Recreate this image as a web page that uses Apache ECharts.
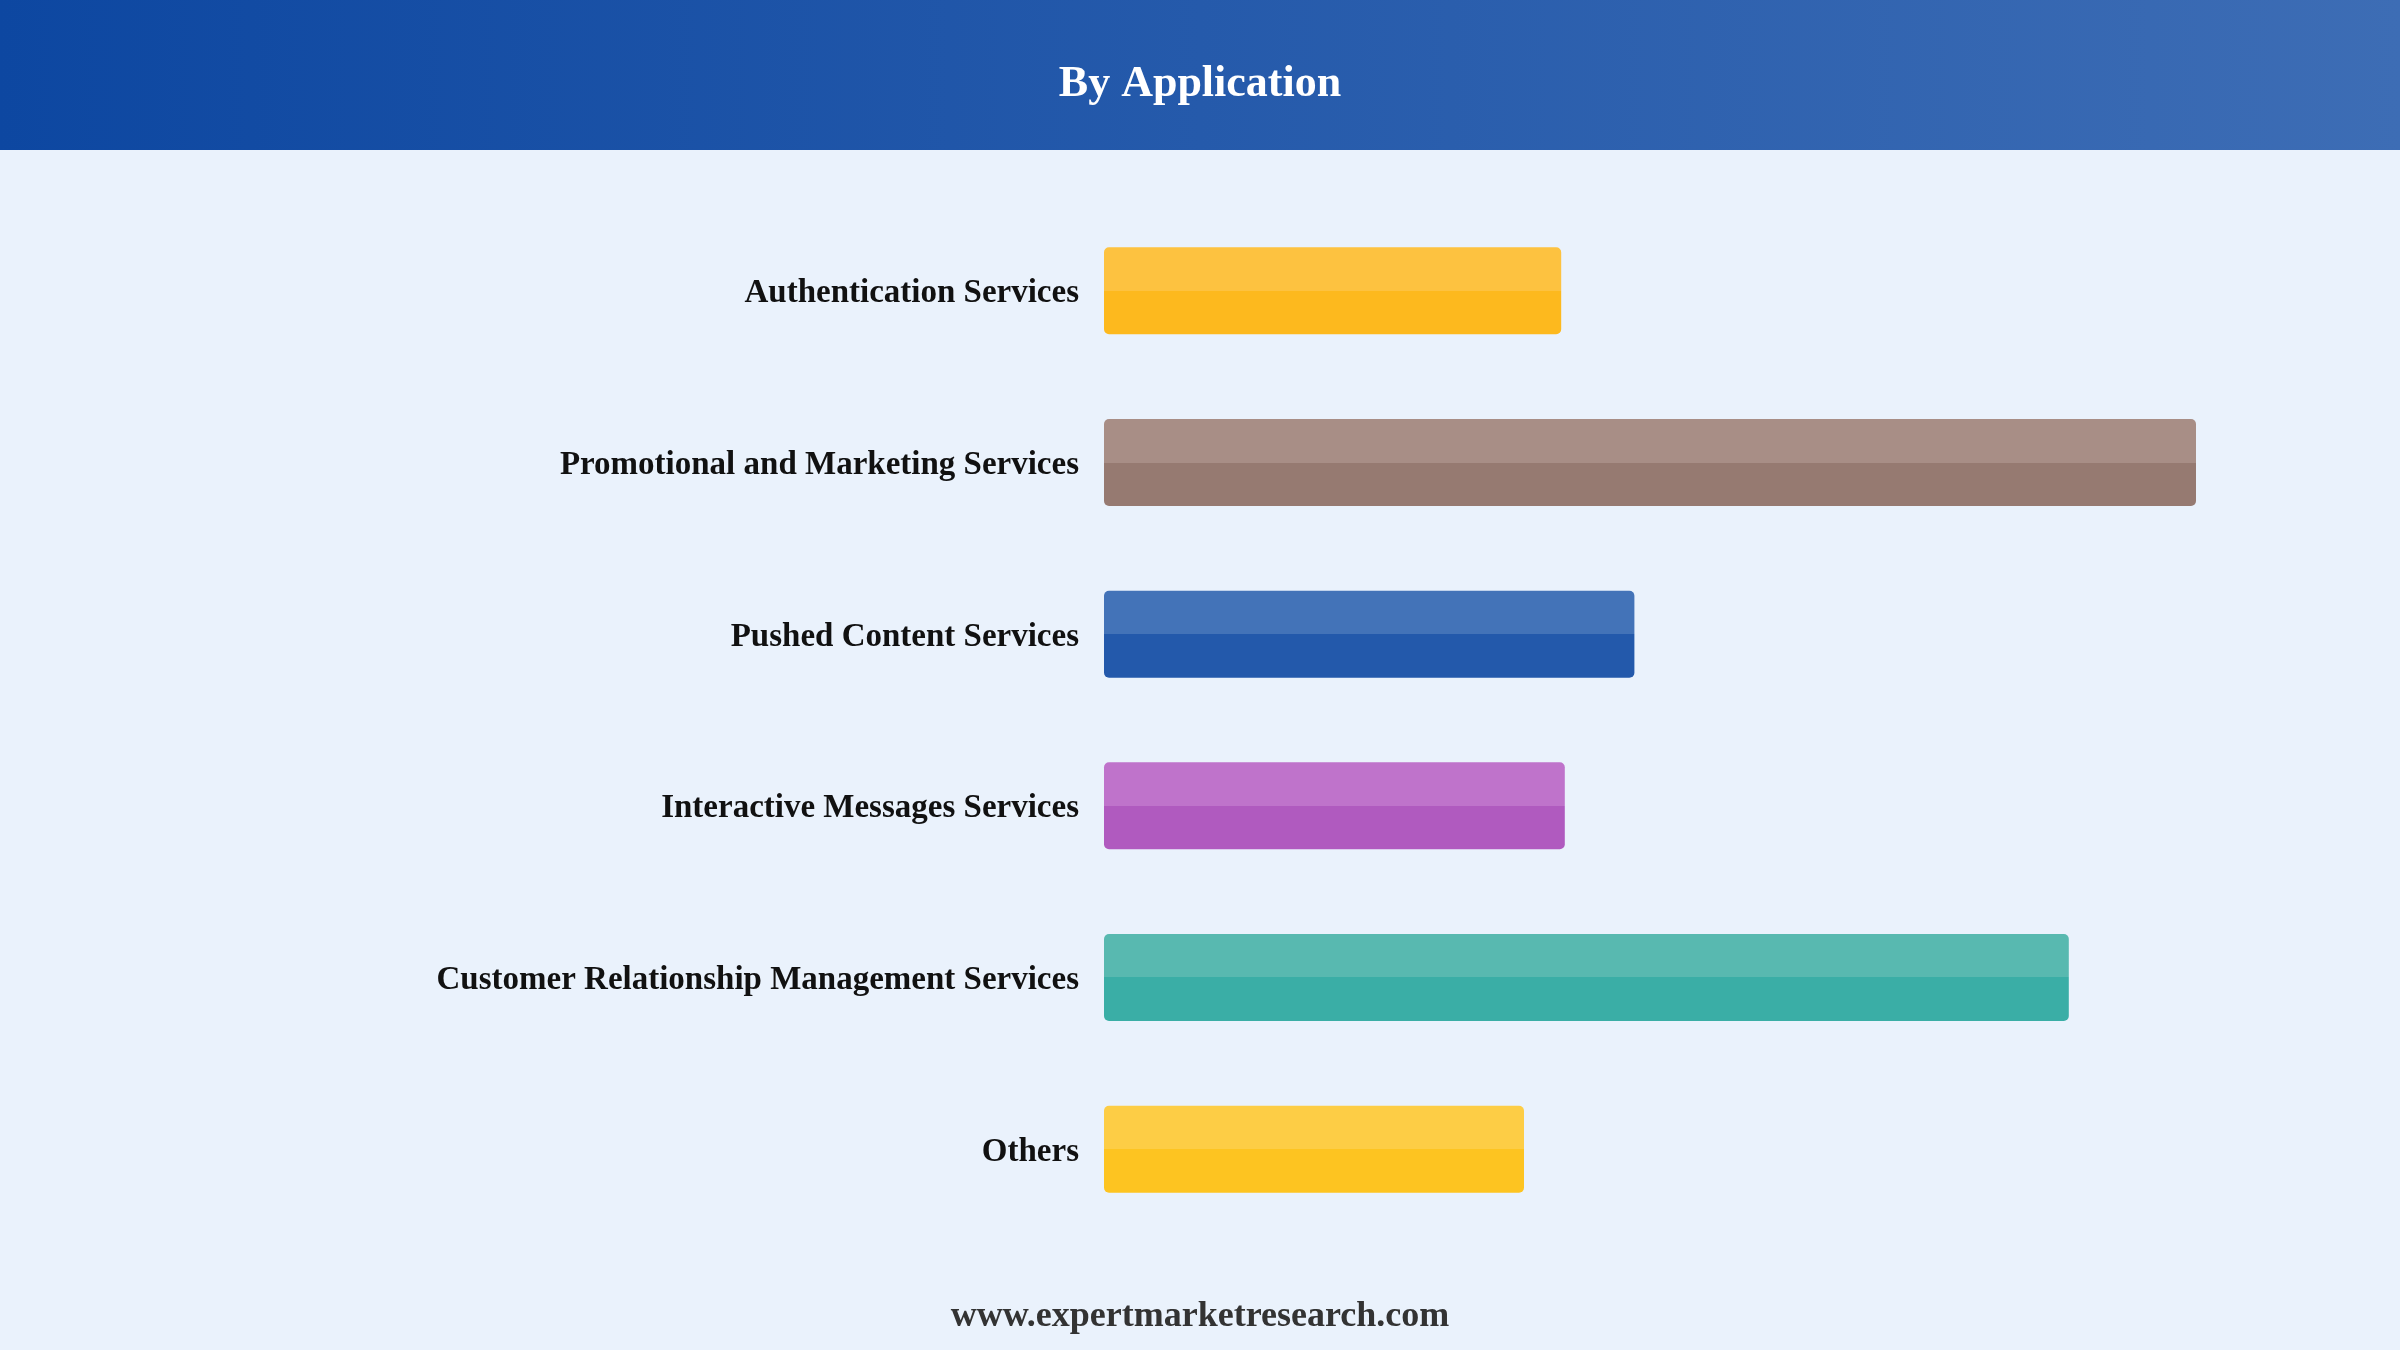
<!DOCTYPE html>
<html>
<head>
<meta charset="utf-8">
<title>By Application</title>
<script src="https://cdn.jsdelivr.net/npm/echarts@6/dist/echarts.min.js"></script>
<style>
  html, body { margin: 0; padding: 0; background: #eaf2fc; }
  #chart { width: 2400px; height: 1350px; }
</style>
</head>
<body>
<div id="chart"></div>
<script>
;(function(){
  'use strict';

  // chart data
  var categories = [
    'Authentication Services',
    'Promotional and Marketing Services',
    'Pushed Content Services',
    'Interactive Messages Services',
    'Customer Relationship Management Services',
    'Others'
  ];
  var values = [38.1, 91.0, 44.2, 38.4, 80.4, 35.0];

  // bar colours: lighter top half, base lower half
  var topColors  = ['#fdc240', '#a88e86', '#4373b8', '#bf73cb', '#58b9b0', '#fdcd45'];
  var baseColors = ['#fdb91e', '#967a71', '#2359ab', '#b05abf', '#3aaea6', '#fdc421'];

  var serif = '"Liberation Serif", "Times New Roman", serif';

  var barData = [];
  for (var i = 0; i < values.length; i++) {
    barData.push({
      value: values[i],
      itemStyle: {
        color: new echarts.graphic.LinearGradient(0, 0, 0, 1, [
          { offset: 0, color: topColors[i] },
          { offset: 0.5, color: topColors[i] },
          { offset: 0.5, color: baseColors[i] },
          { offset: 1, color: baseColors[i] }
        ])
      }
    });
  }

  var option = {
    backgroundColor: '#eaf2fc',
    animation: false,
    graphic: [
      {
        type: 'rect',
        left: 0, top: 0, z: 0,
        shape: { width: 2400, height: 150 },
        style: {
          fill: new echarts.graphic.LinearGradient(0, 0, 1, 0, [
            { offset: 0, color: '#0d47a1' },
            { offset: 1, color: '#3d6db5' }
          ])
        }
      },
      {
        type: 'text',
        x: 1200, y: 85, z: 10,
        style: {
          text: 'By Application',
          align: 'center',
          verticalAlign: 'middle',
          fill: '#ffffff',
          font: 'bold 44px ' + serif
        }
      },
      {
        type: 'text',
        x: 1200, y: 1317, z: 10,
        style: {
          text: 'www.expertmarketresearch.com',
          align: 'center',
          verticalAlign: 'middle',
          fill: '#333333',
          font: 'bold 36px ' + serif
        }
      }
    ],
    grid: {
      left: 1104,
      top: 205,
      width: 1200,
      height: 1030,
      containLabel: false
    },
    xAxis: {
      type: 'value',
      min: 0,
      max: 100,
      show: false
    },
    yAxis: {
      type: 'category',
      inverse: true,
      data: categories,
      axisLine: { show: false },
      axisTick: { show: false },
      splitLine: { show: false },
      axisLabel: {
        margin: 25,
        formatter: function (v) { return '{c|' + v + '}'; },
        rich: {
          c: {
            padding: [6, 0, 0, 0],
            color: '#111111',
            fontFamily: serif,
            fontWeight: 'bold',
            fontSize: 33
          }
        }
      }
    },
    series: [{
      type: 'bar',
      barWidth: 87,
      data: barData,
      itemStyle: { borderRadius: 5 }
    }]
  };

  var myChart = echarts.init(document.getElementById('chart'));
  myChart.setOption(option);
})();
</script>
</body>
</html>
